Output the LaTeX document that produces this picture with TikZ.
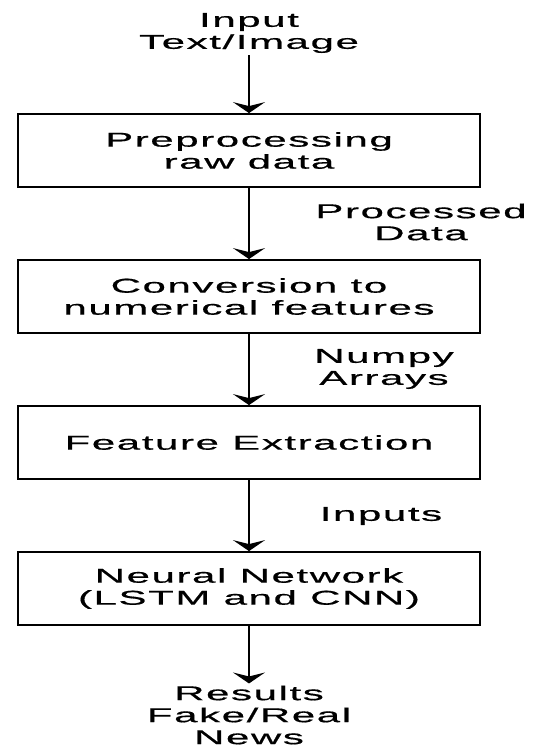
\documentclass[tikz,border=0pt]{standalone}
\usepackage{fontspec}
\setmainfont[FakeStretch=2.1,LetterSpace=8,FakeBold=0.6]{Liberation Sans}
\usetikzlibrary{arrows.meta}
\begin{document}
\begin{tikzpicture}[x=1pt,y=-1pt,
  every node/.style={font=\fontsize{20}{22}\selectfont, align=center, inner sep=2pt},
  stepbox/.style={draw, line width=1.8pt, minimum width=462pt, minimum height=73pt},
  arr/.style={line width=1.8pt, -{Stealth[length=11pt,width=32pt,inset=4pt]}}]
\useasboundingbox (0,0) rectangle (542,747);
\fill[white] (0,0) rectangle (542,747);
\node (in) at (249,33) {Input\\Text/Image};
\node[stepbox] (b1) at (249,150.5) {Preprocessing\\raw data};
\node[stepbox] (b2) at (249,296.5) {Conversion to\\numerical features};
\node[stepbox] (b3) at (249,442.5) {Feature Extraction};
\node[stepbox] (b4) at (249,588.5) {Neural Network\\(LSTM and CNN)};
\node (out) at (249,715) {Results\\Fake/Real\\News};
\node (l1) at (421,222) {Processed\\Data};
\node (l2) at (384,369) {Numpy\\Arrays};
\node (l3) at (381,516) {Inputs};
\draw[arr] (in) -- (b1);
\draw[arr] (b1) -- (b2);
\draw[arr] (b2) -- (b3);
\draw[arr] (b3) -- (b4);
\draw[arr] (b4) -- (out);
\end{tikzpicture}
\end{document}
